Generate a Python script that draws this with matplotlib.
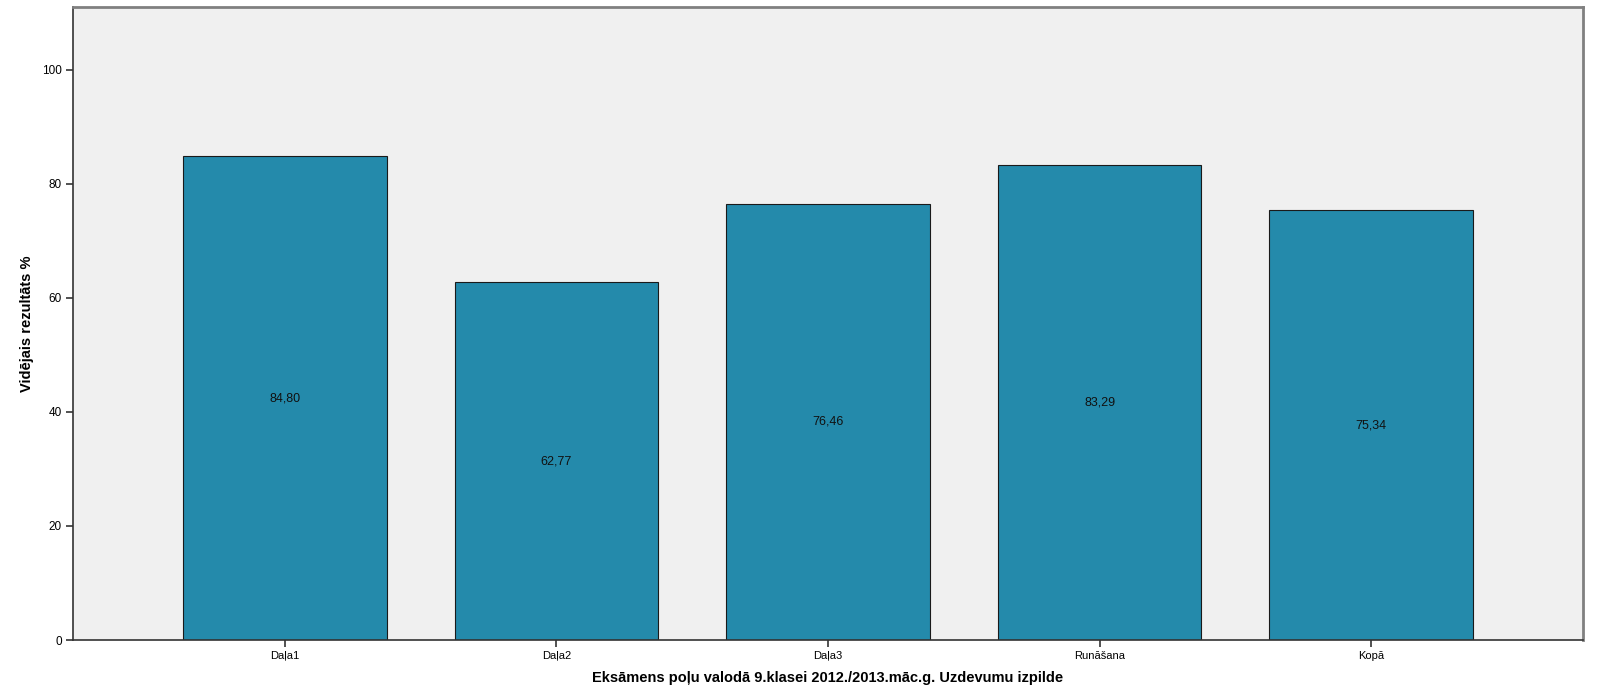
import matplotlib
matplotlib.use("Agg")
import matplotlib.pyplot as plt

categories = ["Daļa1", "Daļa2", "Daļa3", "Runāšana", "Kopā"]
values = [84.80, 62.77, 76.46, 83.29, 75.34]
yticks = [0, 20, 40, 60, 80, 100]

plt.rcParams["font.family"] = ["Liberation Sans", "DejaVu Sans"]

fig = plt.figure(figsize=(16, 7), dpi=100)
ax = fig.add_axes([0.0456, 0.0857, 0.9438, 0.9043])
ax.set_facecolor("#f0f0f0")

x = range(len(categories))
bars = ax.bar(x, values, width=0.75, color="#248aab", edgecolor="#1a1a1a", linewidth=0.8, zorder=2)

for xi, v in zip(x, values):
    ax.text(xi, v / 2, f"{v:.2f}".replace(".", ","), ha="center", va="center", fontsize=9, color="#111111")

ax.set_xlim(-0.78, 4.78)
ax.set_ylim(0, 111)
ax.set_xticks(list(x))
ax.set_xticklabels(categories, fontsize=8)
ax.set_yticks(yticks)
ax.set_yticklabels([str(t) for t in yticks], fontsize=8.5)
ax.tick_params(axis="both", length=5, width=1.2, color="#333333", pad=3)

ax.set_xlabel("Eksāmens poļu valodā 9.klasei 2012./2013.māc.g. Uzdevumu izpilde", fontsize=10.5, fontweight="bold", labelpad=7)
ax.set_ylabel("Vidējais rezultāts %", fontsize=10.5, fontweight="bold", labelpad=6)

ax.spines["left"].set_color("#333333")
ax.spines["bottom"].set_color("#333333")
ax.spines["left"].set_linewidth(1.2)
ax.spines["bottom"].set_linewidth(1.2)
ax.spines["top"].set_color("#808080")
ax.spines["right"].set_color("#808080")
ax.spines["top"].set_linewidth(2)
ax.spines["right"].set_linewidth(2)

fig.savefig("out.png", dpi=100)
